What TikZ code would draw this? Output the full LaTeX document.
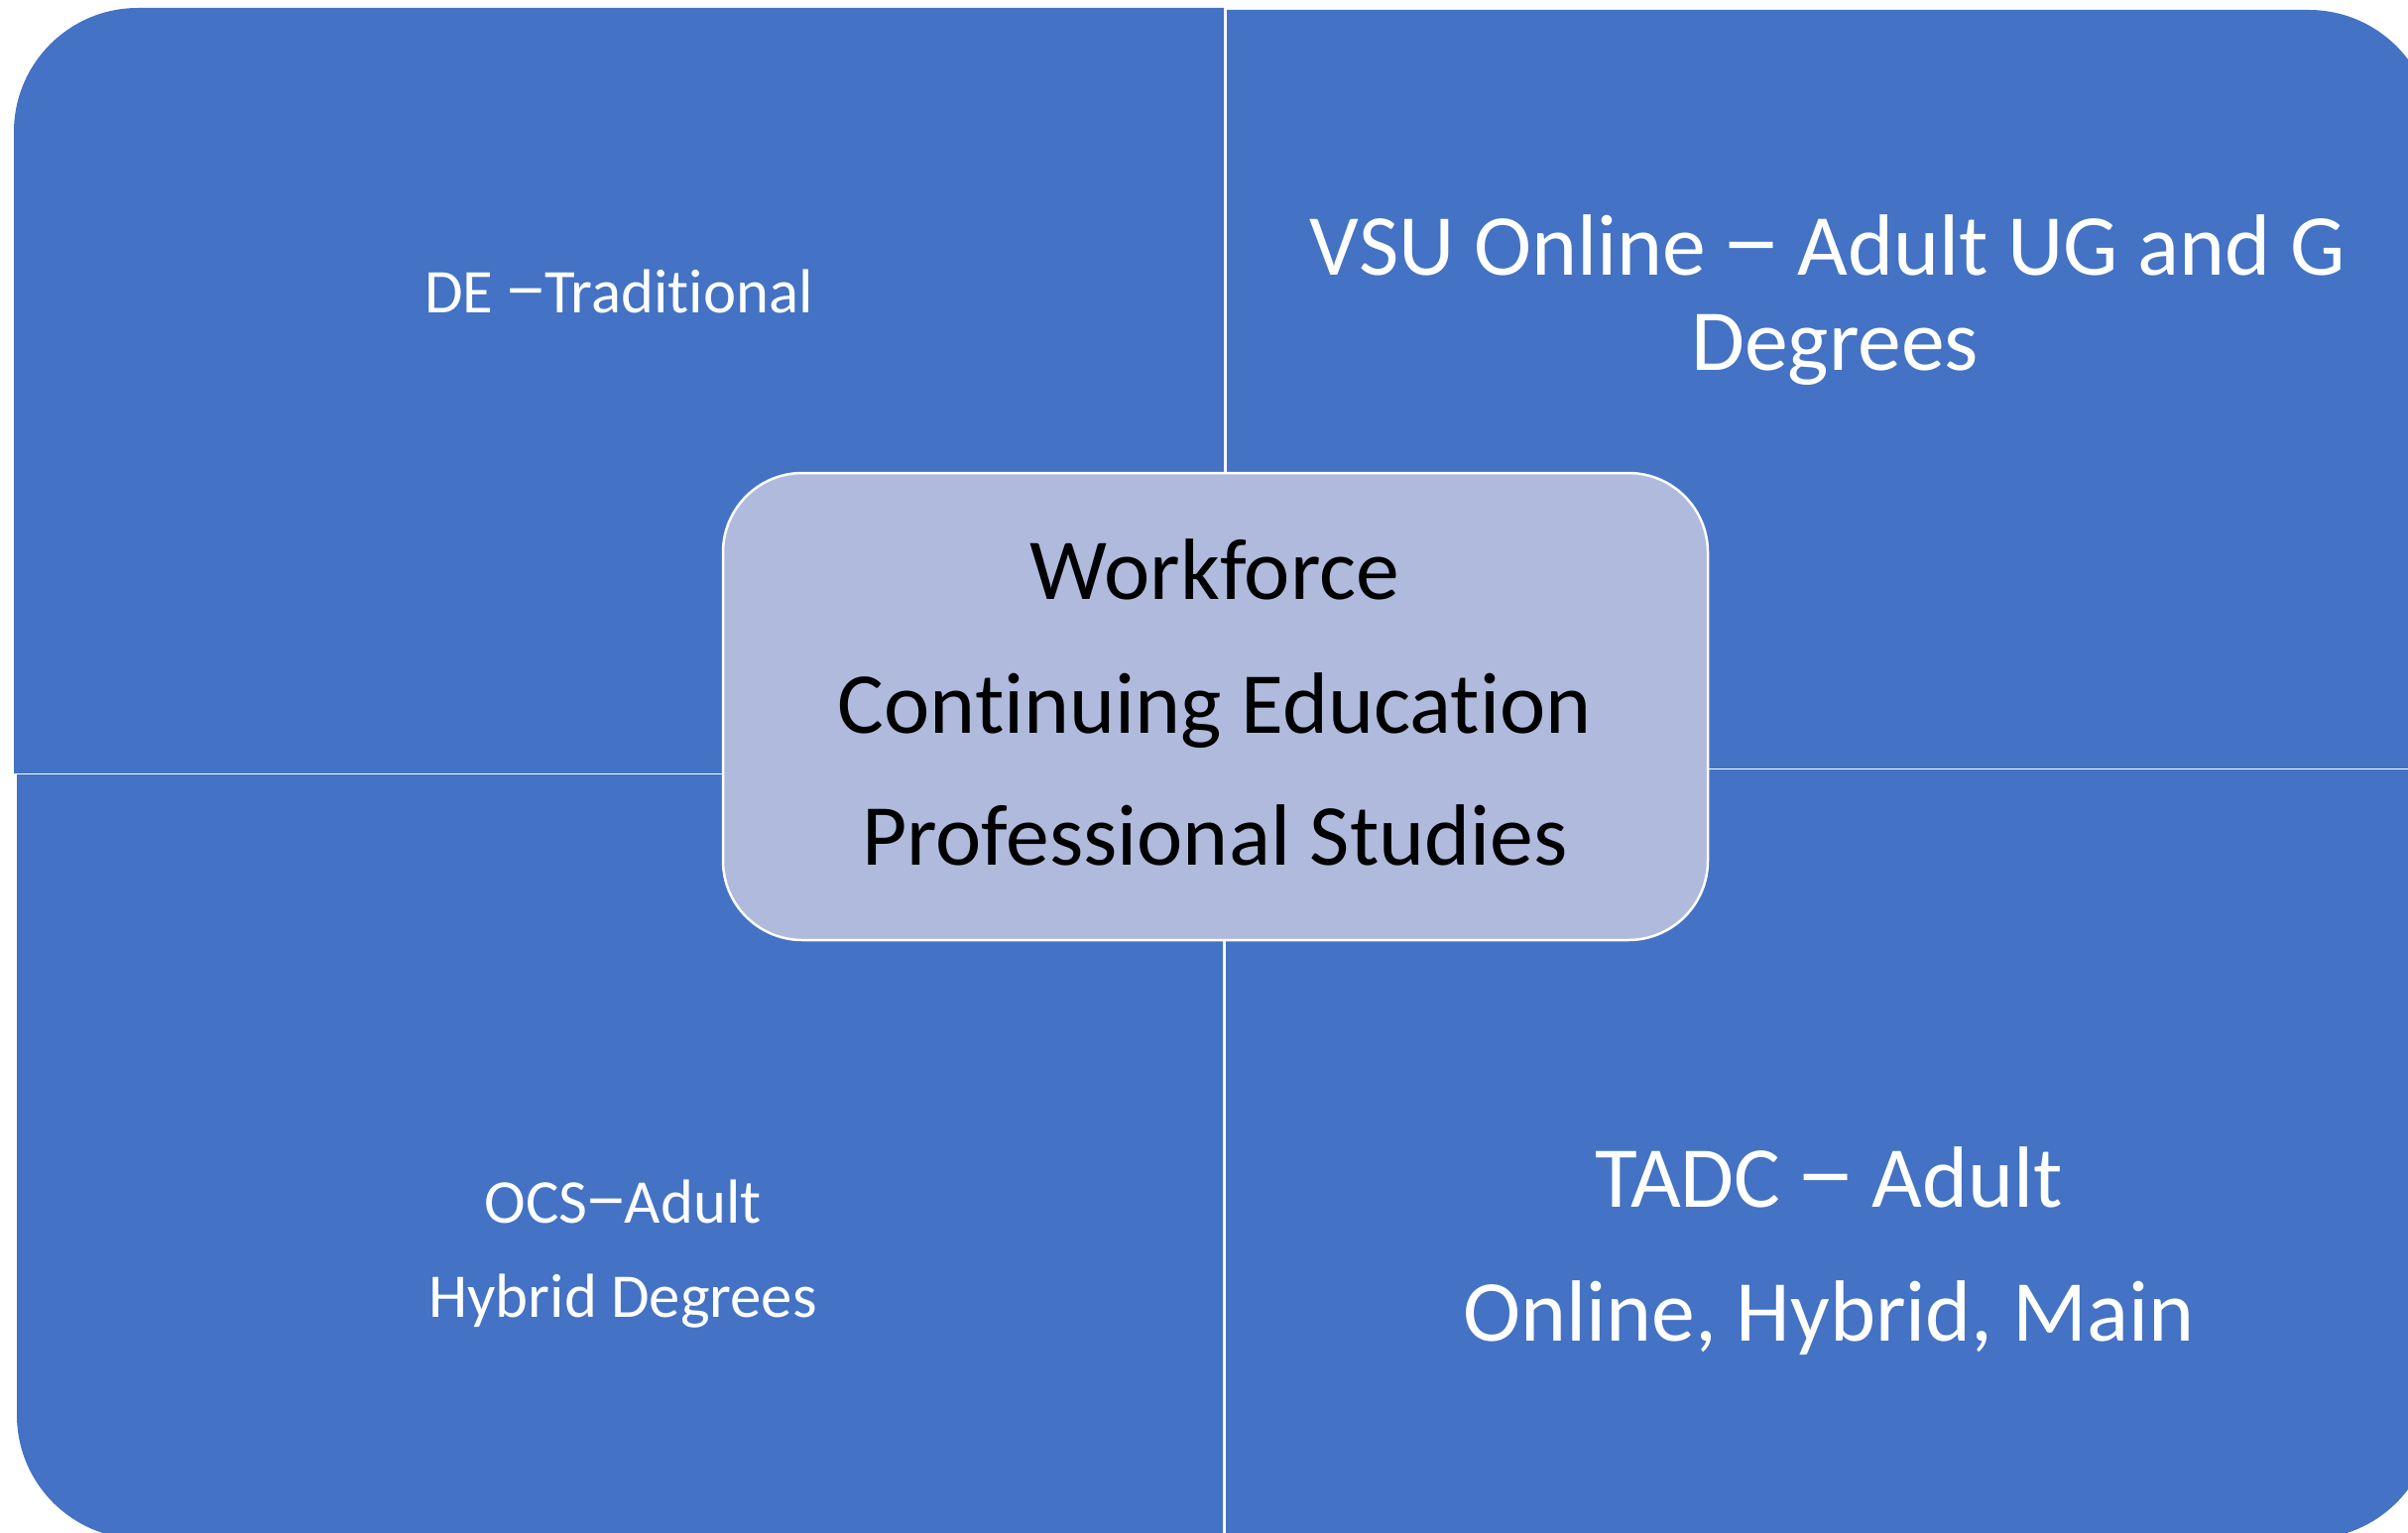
\documentclass[tikz,border=0pt]{standalone}
\usepackage{fontspec}
\usepackage{graphicx}
\setmainfont{Carlito}[Ligatures={TeX,NoCommon}]
\definecolor{quadblue}{HTML}{4472C4}
\definecolor{corefill}{HTML}{AFBADC}
\newcommand{\bardash}{\kern-0.05em\raisebox{0.02em}{\scalebox{1.4}[1.15]{–}}\kern-0.05em}
\tikzset{
  quad/.style={fill=quadblue, rounded corners=125bp},
  smalltxt/.style={text=white, anchor=base, inner sep=0pt, font=\fontsize{63}{70}\selectfont},
  bigtxt/.style={text=white, anchor=base, inner sep=0pt, font=\fontsize{88}{96}\selectfont},
  corebox/.style={draw=white, line width=2.5bp, fill=corefill, rounded corners=80bp,
                  minimum width=993bp, minimum height=471bp, inner sep=0pt},
  coretxt/.style={bigtxt, text=black}
}
\begin{document}
\begin{tikzpicture}[x=1bp,y=-1bp]
\useasboundingbox (0,0) rectangle (2428,1546);
\clip (0,0) rectangle (2428,1546);
% top-left quadrant
\begin{scope}
  \clip (14,8) rectangle (1234,779);
  \fill[quad] (14,8) rectangle (1700,1200);
\end{scope}
% top-right quadrant
\begin{scope}
  \clip (1237,10) rectangle (2453,774);
  \fill[quad] (700,10) rectangle (2453,1200);
\end{scope}
% bottom-left quadrant
\begin{scope}
  \clip (17,781) rectangle (1233,1552);
  \fill[quad] (17,300) rectangle (1700,1552);
\end{scope}
% bottom-right quadrant
\begin{scope}
  \clip (1236,776) rectangle (2453,1552);
  \fill[quad] (700,300) rectangle (2453,1552);
\end{scope}
% quadrant texts
\node[smalltxt] (de) at (624,315) {DE \bardash Traditional};
\node[bigtxt] (vsuA) at (1843,277) {VSU Online \bardash{} Adult UG and G};
\node[bigtxt] (vsuB) at (1850,373) {Degrees};
\node[smalltxt] (ocsA) at (628,1233) {OCS\bardash Adult};
\node[smalltxt] (ocsB) at (628,1328) {Hybrid Degrees};
\node[bigtxt] (tadcA) at (1844,1217) {TADC \bardash{} Adult};
\node[bigtxt] (tadcB) at (1844,1352) {Online, Hybrid, Main};
% central box
\node[corebox] (core) at (1225.5,712.5) {};
\node[coretxt] (coreA) at (1225,604) {Workforce};
\node[coretxt] (coreB) at (1225,739) {Continuing Education};
\node[coretxt] (coreC) at (1225,872) {Professional Studies};
\end{tikzpicture}
\end{document}
